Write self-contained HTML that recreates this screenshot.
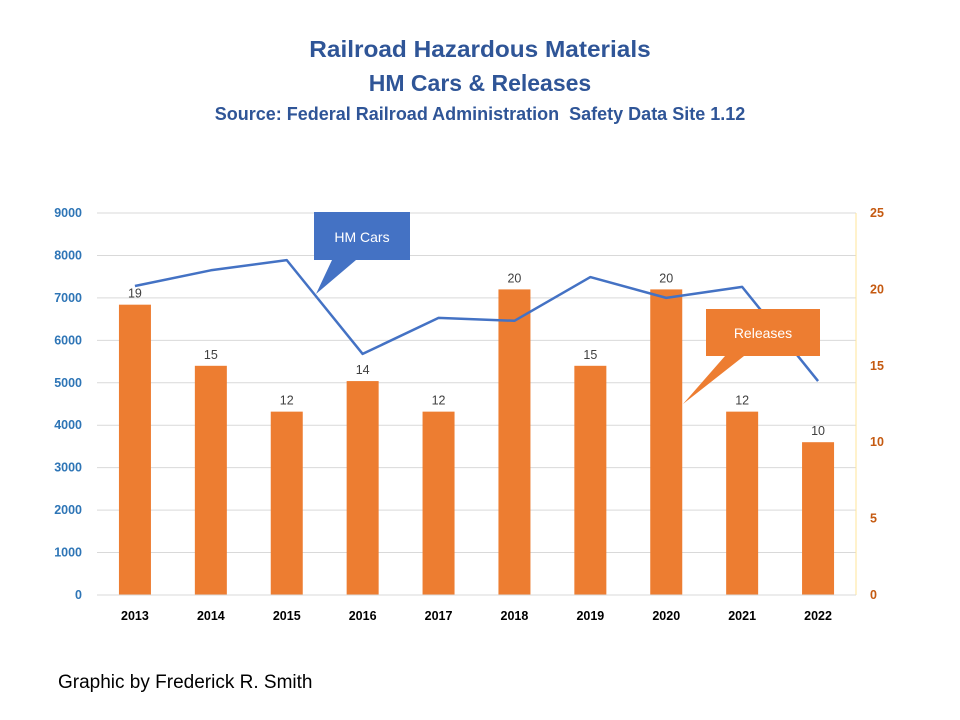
<!DOCTYPE html>
<html><head><meta charset="utf-8"><style>
body{margin:0;background:#fff;font-family:"Liberation Sans",sans-serif}
#wrap{position:relative;width:960px;height:720px}
.t{position:absolute;left:0;width:960px;text-align:center;color:#2F5597;font-weight:bold}
</style></head><body>
<div id="wrap">
<div class="t" style="top:36px;font-size:23px;transform:scaleX(1.06)">Railroad Hazardous Materials</div>
<div class="t" style="top:70px;font-size:23px;transform:scaleX(1.0)">HM Cars &amp; Releases</div>
<div class="t" style="top:104px;font-size:18px">Source: Federal Railroad Administration &nbsp;Safety Data Site 1.12</div>
<svg id="svg" width="960" height="720" style="position:absolute;left:0;top:0"></svg>
<div style="position:absolute;left:58px;top:672px;font-size:19px;color:#000">Graphic by Frederick R. Smith</div>
</div>
<script>
const years=["2013","2014","2015","2016","2017","2018","2019","2020","2021","2022"];
const releases=[19,15,12,14,12,20,15,20,12,10];
const hmCars=[7280,7650,7890,5680,6530,6460,7490,7000,7260,5040];
const leftTicks=[0,1000,2000,3000,4000,5000,6000,7000,8000,9000];
const rightTicks=[0,5,10,15,20,25];
const svg=document.getElementById('svg');
const NS='http://www.w3.org/2000/svg';
const x0=97,x1=856,y0=595,y1=213;
const band=(x1-x0)/years.length;
const xc=i=>x0+band*(i+0.5);
const yl=v=>y0-(v/9000)*(y0-y1);
const yr=v=>y0-(v/25)*(y0-y1);
function mk(tag,a){const e=document.createElementNS(NS,tag);for(const k in a)e.setAttribute(k,a[k]);svg.appendChild(e);return e;}
leftTicks.forEach(v=>{
 const g=mk('line',{x1:x0,x2:x1,y1:yl(v),y2:yl(v),stroke:'#d9d9d9','stroke-width':1});
 
 
 const t=mk('text',{x:82,y:yl(v)+4,'text-anchor':'end','font-size':12.5,'font-weight':'bold',fill:'#2E75B6'});
 t.textContent=v;
 
 
});
const ax=mk('line',{x1:x1,x2:x1,y1:y1,y2:y0,stroke:'#FFE699','stroke-width':1});


rightTicks.forEach(v=>{
 const t=mk('text',{x:870,y:yr(v)+4,'text-anchor':'start','font-size':12.5,'font-weight':'bold',fill:'#C55A11'});
 t.textContent=v;
 
 
});
years.forEach((y,i)=>{
 const r=mk('rect',{x:xc(i)-16,y:yr(releases[i]),width:32,height:y0-yr(releases[i]),fill:'#ED7D31'});
 
 
 const l=mk('text',{x:xc(i),y:yr(releases[i])-7,'text-anchor':'middle','font-size':12.5,fill:'#404040'});
 l.textContent=releases[i];
 
 
 const t=mk('text',{x:xc(i),y:620,'text-anchor':'middle','font-size':12.5,'font-weight':'bold',fill:'#000'});
 t.textContent=y;
 
 
});
const base=mk('line',{x1:x0,x2:x1,y1:y0,y2:y0,stroke:'#d9d9d9'});


const pl=mk('polyline',{points:hmCars.map((v,i)=>xc(i)+','+yl(v)).join(' '),fill:'none',stroke:'#4472C4','stroke-width':2.5,'stroke-linejoin':'round'});


const c1=mk('path',{d:'M314,212 H410 V260 H356 L316,294 L332,260 H314 Z',fill:'#4472C4'});


const c1t=mk('text',{x:362,y:242,'text-anchor':'middle','font-size':14,fill:'#fff'});
c1t.textContent='HM Cars';


const c2=mk('path',{d:'M706,309 H820 V356 H744 L683,404 L725,356 H706 Z',fill:'#ED7D31'});


const c2t=mk('text',{x:763,y:338,'text-anchor':'middle','font-size':14,fill:'#fff'});
c2t.textContent='Releases';


</script>
</body></html>
